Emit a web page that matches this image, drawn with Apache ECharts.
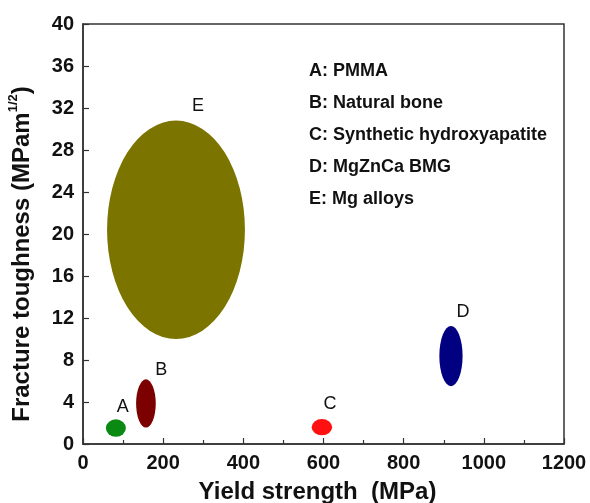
<!DOCTYPE html>
<html>
<head>
<meta charset="utf-8">
<script src="https://cdn.jsdelivr.net/npm/echarts@6/dist/echarts.min.js"></script>
<style>
html,body{margin:0;padding:0;background:#fff;}
#main{width:590px;height:503px;}
</style>
</head>
<body>
<div id="main"></div>
<script>
// ---- data ----
var names = ['A', 'B', 'C', 'D', 'E'];
var materials = ['PMMA', 'Natural bone', 'Synthetic hydroxyapatite', 'MgZnCa BMG', 'Mg alloys'];
var yieldCenter = [82, 157, 596, 918, 232];      // MPa
var yieldSpan = [50, 49, 51, 58, 344];           // MPa (full width)
var toughCenter = [1.52, 3.86, 1.6, 8.38, 20.4]; // MPa m^1/2
var toughSpan = [1.66, 4.6, 1.55, 5.74, 20.8];   // full height
var labelX = [99, 195, 616, 948, 287];
var labelY = [3.55, 7.05, 3.8, 12.6, 32.2];
var xTicks = [0, 200, 400, 600, 800, 1000, 1200];
var yTicks = [0, 4, 8, 12, 16, 20, 24, 28, 32, 36, 40];
// ---- styles ----
var colors = ['#0a8a12', '#7d0000', '#ff1010', '#000080', '#7b7500'];
var FONT = '"Liberation Sans", Arial, sans-serif';

var ellipseData = names.map(function (n, i) {
  return [yieldCenter[i], toughCenter[i], yieldSpan[i], toughSpan[i], i];
});
var labelData = names.map(function (n, i) {
  return [labelX[i], labelY[i], n];
});

var chart = echarts.init(document.getElementById('main'), null, {renderer: 'canvas'});
var option = {
  backgroundColor: '#fff',
  animation: false,
  grid: {
    left: 83, right: 26, top: 24, bottom: 59,
    show: true, borderColor: '#333', borderWidth: 1.5,
    outerBoundsMode: 'none', containLabel: false
  },
  xAxis: {
    type: 'value', min: xTicks[0], max: xTicks[xTicks.length - 1], interval: 200,
    name: 'Yield strength  (MPa)', nameLocation: 'middle', nameGap: 36,
    nameTextStyle: {fontFamily: FONT, fontWeight: 'bold', fontSize: 24, color: '#111', padding: [0, 12, 0, 0]},
    axisLine: {show: true, lineStyle: {color: '#333', width: 1.5}},
    axisTick: {show: true, inside: true, length: 6, lineStyle: {color: '#333', width: 1.2}},
    minorTick: {show: true, splitNumber: 2, length: 4, lineStyle: {color: '#333', width: 1.2}},
    splitLine: {show: false},
    axisLabel: {fontFamily: FONT, fontWeight: 'bold', fontSize: 20, color: '#111', margin: 9,
      formatter: function (v) { return String(v); }}
  },
  yAxis: {
    type: 'value', min: yTicks[0], max: yTicks[yTicks.length - 1], interval: 4,
    name: 'Fracture toughness (MPam{sup|1/2})', nameLocation: 'middle', nameGap: 46,
    nameTextStyle: {
      fontFamily: FONT, fontWeight: 'bold', fontSize: 24, color: '#111', lineHeight: 30,
      padding: [0, 40, 0, 0],
      rich: {sup: {fontFamily: FONT, fontWeight: 'bold', fontSize: 13, color: '#111', verticalAlign: 'top', lineHeight: 30, padding: [0, 0, 12, 0]}}
    },
    axisLine: {show: true, lineStyle: {color: '#333', width: 1.5}},
    axisTick: {show: true, inside: true, length: 6, lineStyle: {color: '#333', width: 1.2}},
    splitLine: {show: false},
    axisLabel: {fontFamily: FONT, fontWeight: 'bold', fontSize: 20, color: '#111', margin: 9,
      formatter: function (v) { return String(v); }}
  },
  graphic: [{
    type: 'text', left: 309, top: 55,
    style: {
      text: names.map(function (n, i) { return n + ': ' + materials[i]; }).join('\n'),
      font: 'bold 18px ' + FONT, fill: '#111', lineHeight: 32
    }
  }],
  series: [{
    type: 'custom',
    data: ellipseData,
    clip: false,
    renderItem: function (params, api) {
      var c = api.coord([api.value(0), api.value(1)]);
      var s = api.size([api.value(2), api.value(3)]);
      var rx = s[0] / 2, ry = s[1] / 2;
      return {
        type: 'circle',
        x: c[0], y: c[1],
        scaleX: rx / ry, scaleY: 1,
        shape: {cx: 0, cy: 0, r: ry},
        style: {fill: colors[api.value(4)]}
      };
    }
  }, {
    type: 'custom',
    data: labelData,
    clip: false,
    renderItem: function (params, api) {
      var c = api.coord([api.value(0), api.value(1)]);
      return {
        type: 'text',
        x: c[0], y: c[1],
        style: {
          text: labelData[params.dataIndex][2],
          font: '18px ' + FONT, fill: '#111',
          align: 'center', verticalAlign: 'middle'
        }
      };
    }
  }]
};
chart.setOption(option);
</script>
</body>
</html>
